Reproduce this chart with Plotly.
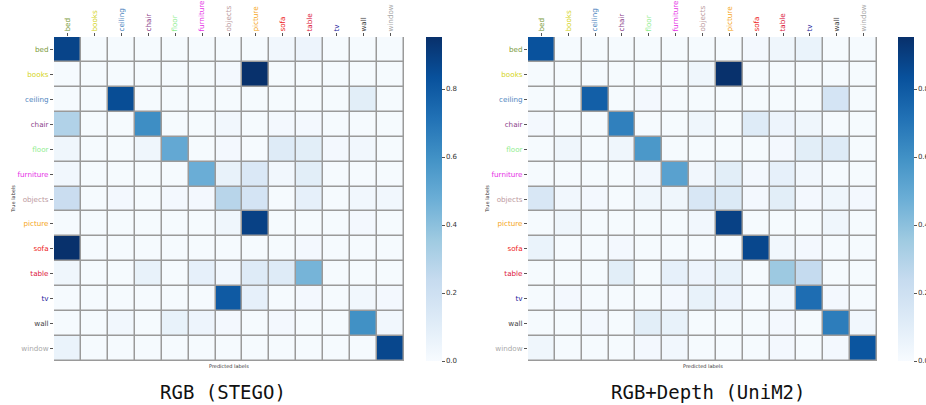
import plotly.graph_objects as go

labels = ["bed", "books", "ceiling", "chair", "floor", "furniture", "objects",
          "picture", "sofa", "table", "tv", "wall", "window"]
label_colors = ["#7a9a3a", "#d4d41c", "#4f86c0", "#8b3f8b", "#90ee90", "#e632e6",
                "#bc9aa0", "#f5a623", "#ee2222", "#dc143c", "#23239b", "#444444", "#a9a9a9"]

# rows = true labels, columns = predicted labels
stego = [
    [0.88, 0.01, 0.01, 0.01, 0.01, 0.01, 0.01, 0.01, 0.03, 0.05, 0.01, 0.01, 0.01],
    [0.01, 0.01, 0.01, 0.01, 0.01, 0.01, 0.02, 0.95, 0.01, 0.01, 0.01, 0.01, 0.01],
    [0.01, 0.01, 0.85, 0.01, 0.01, 0.01, 0.01, 0.01, 0.01, 0.01, 0.01, 0.10, 0.01],
    [0.30, 0.01, 0.01, 0.61, 0.01, 0.01, 0.03, 0.01, 0.02, 0.02, 0.01, 0.01, 0.01],
    [0.04, 0.01, 0.01, 0.04, 0.50, 0.01, 0.02, 0.01, 0.12, 0.10, 0.02, 0.03, 0.01],
    [0.03, 0.01, 0.01, 0.01, 0.01, 0.48, 0.07, 0.14, 0.03, 0.10, 0.01, 0.01, 0.01],
    [0.22, 0.01, 0.02, 0.01, 0.02, 0.02, 0.28, 0.17, 0.01, 0.08, 0.01, 0.03, 0.03],
    [0.01, 0.01, 0.01, 0.01, 0.01, 0.01, 0.04, 0.89, 0.01, 0.01, 0.01, 0.02, 0.01],
    [0.95, 0.01, 0.01, 0.01, 0.01, 0.01, 0.01, 0.01, 0.01, 0.02, 0.01, 0.01, 0.01],
    [0.04, 0.01, 0.01, 0.07, 0.01, 0.08, 0.03, 0.12, 0.12, 0.45, 0.01, 0.01, 0.01],
    [0.01, 0.01, 0.01, 0.01, 0.01, 0.01, 0.80, 0.08, 0.01, 0.02, 0.01, 0.03, 0.02],
    [0.01, 0.01, 0.03, 0.01, 0.07, 0.05, 0.02, 0.01, 0.02, 0.01, 0.01, 0.60, 0.03],
    [0.06, 0.01, 0.01, 0.01, 0.01, 0.01, 0.01, 0.01, 0.01, 0.01, 0.01, 0.01, 0.87],
]

unim2 = [
    [0.83, 0.01, 0.01, 0.01, 0.01, 0.01, 0.01, 0.01, 0.02, 0.04, 0.06, 0.01, 0.01],
    [0.01, 0.01, 0.01, 0.01, 0.01, 0.01, 0.04, 0.95, 0.01, 0.01, 0.01, 0.01, 0.01],
    [0.01, 0.01, 0.78, 0.01, 0.02, 0.01, 0.01, 0.01, 0.01, 0.01, 0.01, 0.17, 0.01],
    [0.02, 0.01, 0.01, 0.66, 0.01, 0.01, 0.04, 0.01, 0.12, 0.05, 0.04, 0.01, 0.01],
    [0.01, 0.04, 0.01, 0.04, 0.57, 0.01, 0.01, 0.01, 0.01, 0.02, 0.10, 0.12, 0.01],
    [0.01, 0.01, 0.01, 0.01, 0.03, 0.53, 0.03, 0.10, 0.02, 0.08, 0.03, 0.01, 0.01],
    [0.15, 0.03, 0.02, 0.01, 0.04, 0.04, 0.15, 0.13, 0.02, 0.10, 0.02, 0.04, 0.02],
    [0.01, 0.04, 0.01, 0.01, 0.01, 0.01, 0.03, 0.89, 0.01, 0.01, 0.01, 0.04, 0.01],
    [0.06, 0.01, 0.01, 0.02, 0.01, 0.01, 0.01, 0.01, 0.87, 0.03, 0.02, 0.01, 0.01],
    [0.01, 0.01, 0.01, 0.10, 0.01, 0.08, 0.05, 0.07, 0.01, 0.36, 0.24, 0.01, 0.01],
    [0.01, 0.02, 0.01, 0.01, 0.01, 0.02, 0.07, 0.05, 0.01, 0.03, 0.73, 0.02, 0.01],
    [0.01, 0.01, 0.02, 0.01, 0.10, 0.07, 0.01, 0.01, 0.01, 0.02, 0.01, 0.67, 0.03],
    [0.04, 0.01, 0.01, 0.01, 0.02, 0.03, 0.01, 0.01, 0.01, 0.02, 0.01, 0.02, 0.82],
]

panel_titles = ["RGB (STEGO)", "RGB+Depth (UniM2)"]
cbar_ticks = [0.0, 0.2, 0.4, 0.6, 0.8]

blues = [[0.0, "rgb(247,251,255)"], [0.125, "rgb(222,235,247)"], [0.25, "rgb(198,219,239)"],
         [0.375, "rgb(158,202,225)"], [0.5, "rgb(107,174,214)"], [0.625, "rgb(66,146,198)"],
         [0.75, "rgb(33,113,181)"], [0.875, "rgb(8,81,156)"], [1.0, "rgb(8,48,107)"]]

W, H = 926, 405
def px(x):
    return x / W
def py(y):
    return 1 - y / H

colored = [f'<span style="color:{c}">{t}</span>' for t, c in zip(labels, label_colors)]

fig = go.Figure()
fig.add_trace(go.Heatmap(z=stego, x=labels, y=labels, coloraxis="coloraxis",
                         xgap=1.5, ygap=1.5, xaxis="x", yaxis="y"))
fig.add_trace(go.Heatmap(z=unim2, x=labels, y=labels, coloraxis="coloraxis2",
                         xgap=1.5, ygap=1.5, xaxis="x2", yaxis="y2"))

ytop, ybot = 37, 361
ydom = [py(ybot), py(ytop)]
panels = [(54, 404, 426), (528, 877, 898)]

axfont = dict(family="DejaVu Sans", size=7.2, color="#333")
common_x = dict(side="top", tickangle=-90, tickmode="array", tickvals=labels, ticktext=colored,
                ticks="outside", ticklen=3, tickcolor="#555", tickfont=axfont, automargin=False,
                showgrid=False, zeroline=False, showline=False)
common_y = dict(autorange="reversed", tickmode="array", tickvals=labels, ticktext=colored,
                ticks="outside", ticklen=3, tickcolor="#555", tickfont=axfont, automargin=False,
                showgrid=False, zeroline=False, showline=False)

def cax(cx):
    return dict(colorscale=blues, cmin=0, cmax=0.953,
                colorbar=dict(x=px(cx), xanchor="left", y=ydom[0], yanchor="bottom",
                              len=ydom[1] - ydom[0], lenmode="fraction", thickness=16,
                              outlinewidth=0, tickmode="array", tickvals=cbar_ticks,
                              ticktext=[f"{v:.1f}" for v in cbar_ticks],
                              ticks="outside", ticklen=3, tickcolor="#555",
                              tickfont=dict(family="DejaVu Sans", size=7, color="#333"),
                              xpad=0, ypad=0))

fig.update_layout(
    width=W, height=H, margin=dict(l=0, r=0, t=0, b=0, autoexpand=False),
    paper_bgcolor="white", plot_bgcolor="#9a9a9a",
    xaxis=dict(domain=[px(panels[0][0]), px(panels[0][1])], anchor="y", **common_x),
    yaxis=dict(domain=ydom, anchor="x", **common_y),
    xaxis2=dict(domain=[px(panels[1][0]), px(panels[1][1])], anchor="y2", **common_x),
    yaxis2=dict(domain=ydom, anchor="x2", **common_y),
    coloraxis=cax(panels[0][2]),
    coloraxis2=cax(panels[1][2]),
)

annotations = []
for (x0, x1, _), title, tlx, ttx in zip(panels, panel_titles, [13, 487], [223, 708]):
    cx = (x0 + x1) / 2
    annotations.append(dict(text="Predicted labels", x=px(cx), y=py(366), xref="paper", yref="paper",
                            xanchor="center", yanchor="middle", showarrow=False,
                            font=dict(family="DejaVu Sans", size=5, color="#333")))
    annotations.append(dict(text="True labels", x=px(tlx), y=(ydom[0] + ydom[1]) / 2, xref="paper",
                            yref="paper", textangle=-90, xanchor="center", yanchor="middle",
                            showarrow=False, font=dict(family="DejaVu Sans", size=5, color="#333")))
    annotations.append(dict(text=title, x=px(ttx), y=py(392), xref="paper", yref="paper",
                            xanchor="center", yanchor="middle", showarrow=False,
                            font=dict(family="DejaVu Sans Mono", size=19, color="#111")))
fig.update_layout(annotations=annotations)

fig.write_html("out.html", config={"displayModeBar": False},
               post_script="document.body.style.margin='0px';")
